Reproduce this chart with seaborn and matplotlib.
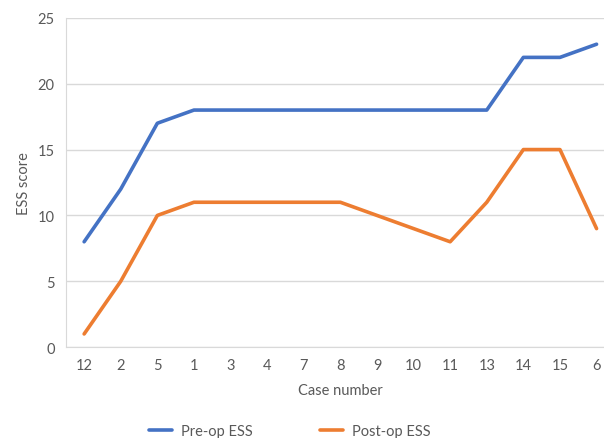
import matplotlib
matplotlib.use("Agg")
import matplotlib.pyplot as plt
import seaborn as sns
import pandas as pd
from matplotlib.lines import Line2D

cases = ["12", "2", "5", "1", "3", "4", "7", "8", "9", "10", "11", "13", "14", "15", "6"]
pre_op = [8, 12, 17, 18, 18, 18, 18, 18, 18, 18, 18, 18, 22, 22, 23]
post_op = [1, 5, 10, 11, 11, 11, 11, 11, 10, 9, 8, 11, 15, 15, 9]

df = pd.DataFrame({
    "case": cases * 2,
    "score": pre_op + post_op,
    "series": ["Pre-op ESS"] * len(cases) + ["Post-op ESS"] * len(cases),
})

sns.set_style("white")
plt.rcParams["font.family"] = ["Lato", "DejaVu Sans"]

fig = plt.figure(figsize=(6.04, 4.39), dpi=100)
ax = fig.add_axes([0.109, 0.207, 0.909, 0.750])

sns.lineplot(data=df, x="case", y="score", hue="series", sort=False,
             palette={"Pre-op ESS": "#4472C4", "Post-op ESS": "#ED7D31"},
             linewidth=2.6, ax=ax, legend=False)

ax.set_xlim(-0.5, len(cases) - 0.5)
ax.set_ylim(0, 25)
ax.set_yticks([0, 5, 10, 15, 20, 25])
ax.yaxis.grid(True, color="#d9d9d9", linewidth=1)
ax.set_axisbelow(True)
for s in ["top", "right"]:
    ax.spines[s].set_visible(False)
ax.spines["left"].set_color("#d9d9d9")
ax.spines["bottom"].set_color("#d9d9d9")
ax.tick_params(axis="both", length=0, labelsize=10.5, labelcolor="#595959", pad=8)
ax.set_xlabel("Case number", fontsize=10.5, color="#595959", labelpad=8)
ax.set_ylabel("ESS score", fontsize=10.5, color="#595959", labelpad=5)

handles = [Line2D([], [], color="#4472C4", linewidth=2.6),
           Line2D([], [], color="#ED7D31", linewidth=2.6)]
fig.legend(handles, ["Pre-op ESS", "Post-op ESS"], loc="lower center",
           bbox_to_anchor=(0.48, -0.03), ncol=2, frameon=False,
           fontsize=10.5, labelcolor="#595959", columnspacing=4.6,
           handlelength=1.6, handletextpad=0.6)

fig.savefig("out.png", dpi=100)
